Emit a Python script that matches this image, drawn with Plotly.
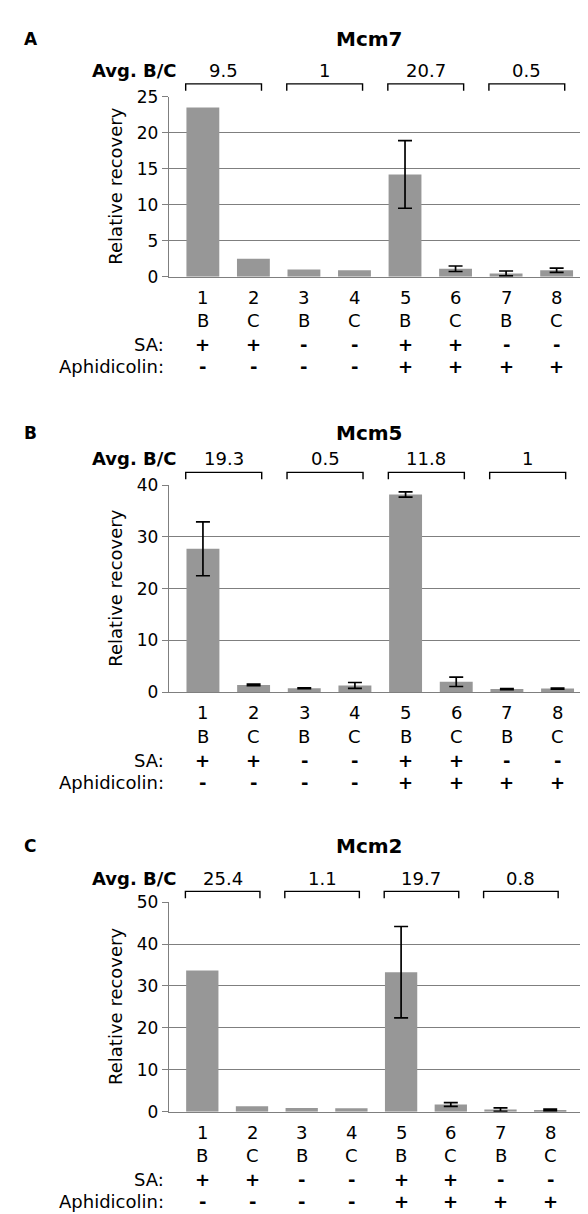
import plotly.graph_objects as go

# ---------------- data ----------------
categories = ["1", "2", "3", "4", "5", "6", "7", "8"]
fractions = ["B", "C", "B", "C", "B", "C", "B", "C"]
sa_row = ["+", "+", "-", "-", "+", "+", "-", "-"]
aph_row = ["-", "-", "-", "-", "+", "+", "+", "+"]

mcm7_values = [23.5, 2.5, 1.0, 0.9, 14.2, 1.1, 0.45, 0.9]
mcm7_errors = [None, None, None, None, 4.7, 0.38, 0.34, 0.3]
mcm7_avg = ["9.5", "1", "20.7", "0.5"]

mcm5_values = [27.7, 1.4, 0.75, 1.3, 38.2, 2.0, 0.6, 0.7]
mcm5_errors = [5.2, 0.15, 0.08, 0.57, 0.5, 0.9, 0.1, 0.1]
mcm5_avg = ["19.3", "0.5", "11.8", "1"]

mcm2_values = [33.7, 1.3, 0.9, 0.8, 33.3, 1.7, 0.5, 0.4]
mcm2_errors = [None, None, None, None, 10.9, 0.45, 0.4, 0.2]
mcm2_avg = ["25.4", "1.1", "19.7", "0.8"]

panel_letters = ["A", "B", "C"]
panel_titles = ["Mcm7", "Mcm5", "Mcm2"]
y_max = [25, 40, 50]
y_step = [5, 10, 10]

# ---------------- layout helpers ----------------
W, H = 588, 1214
FONT = "DejaVu Sans, Arial, sans-serif"


def xp(px):
    return px / W


def yp(py):
    return 1 - py / H


# pixel geometry of the three panels
panels = [
    dict(top=80, bottom=263, right=583, title_y=21, avg_y=53, br_y=67),
    dict(top=475, bottom=685.5, right=584, title_y=422, avg_y=448, br_y=462),
    dict(top=899, bottom=1112, right=576, title_y=842, avg_y=875, br_y=888),
]
plot_left = 161

series = [
    (mcm7_values, mcm7_errors, mcm7_avg),
    (mcm5_values, mcm5_errors, mcm5_avg),
    (mcm2_values, mcm2_errors, mcm2_avg),
]

fig = go.Figure()
annotations = []
shapes = []
xs = list(range(len(categories)))
GRID = "#7f7f7f"

for i, (vals, errs, avgs) in enumerate(series):
    sfx = "" if i == 0 else str(i + 1)
    p = panels[i]
    fig.add_trace(go.Bar(
        x=xs, y=vals, width=0.65,
        marker=dict(color="#979797", line=dict(width=0)),
        xaxis="x" + sfx, yaxis="y" + sfx, showlegend=False,
        hoverinfo="y",
    ))
    ex = [x for x, e in zip(xs, errs) if e is not None]
    ey = [v for v, e in zip(vals, errs) if e is not None]
    ee = [e for e in errs if e is not None]
    fig.add_trace(go.Scatter(
        x=ex, y=ey, mode="markers", marker=dict(size=1, color="rgba(0,0,0,0)"),
        error_y=dict(type="data", array=ee, visible=True, color="black",
                     thickness=1.7, width=7),
        xaxis="x" + sfx, yaxis="y" + sfx, showlegend=False, hoverinfo="skip",
    ))
    fig.layout["xaxis" + sfx] = dict(
        domain=[xp(plot_left), xp(p["right"])],
        range=[-0.67, 7.68], anchor="y" + sfx,
        showticklabels=False, showgrid=False, zeroline=False,
        showline=True, linecolor=GRID, linewidth=1.3, ticks="",
        fixedrange=True,
    )
    fig.layout["yaxis" + sfx] = dict(
        domain=[yp(p["bottom"]), yp(p["top"])],
        range=[0, y_max[i]], dtick=y_step[i], anchor="x" + sfx,
        showgrid=True, gridcolor=GRID, gridwidth=1,
        zeroline=False, showline=True, linecolor=GRID, linewidth=1.3,
        ticks="outside", ticklen=6, tickcolor=GRID, tickwidth=1.3,
        tickfont=dict(family=FONT, size=17, color="black"),
        fixedrange=True,
    )

    # panel letter + title
    annotations.append(dict(text="<b>%s</b>" % panel_letters[i], x=xp(14), y=yp(p["title_y"]),
                            xref="paper", yref="paper", xanchor="left", yanchor="middle",
                            showarrow=False, font=dict(family=FONT, size=17, color="black")))
    annotations.append(dict(text="<b>%s</b>" % panel_titles[i], x=xp(361), y=yp(p["title_y"]),
                            xref="paper", yref="paper", xanchor="center", yanchor="middle",
                            showarrow=False, font=dict(family=FONT, size=20, color="black")))
    # Avg. B/C row
    annotations.append(dict(text="<b>Avg. B/C</b>", x=xp(171), y=yp(p["avg_y"]),
                            xref="paper", yref="paper", xanchor="right", yanchor="middle",
                            showarrow=False, font=dict(family=FONT, size=18, color="black")))
    for k, a in enumerate(avgs):
        x0 = 2 * k - 0.34
        x1 = 2 * k + 1 + 0.16
        annotations.append(dict(text=a, x=(x0 + x1) / 2, y=yp(p["avg_y"]),
                                xref="x" + sfx, yref="paper", xanchor="center", yanchor="middle",
                                showarrow=False, font=dict(family=FONT, size=18, color="black")))
        shapes.append(dict(type="path", xref="x" + sfx, yref="paper",
                           path="M %f,%f L %f,%f L %f,%f L %f,%f" % (
                               x0, yp(p["br_y"] + 7), x0, yp(p["br_y"]),
                               x1, yp(p["br_y"]), x1, yp(p["br_y"] + 7)),
                           line=dict(color="black", width=1.4)))

    # y-axis title
    annotations.append(dict(text="Relative recovery", x=xp(108), y=yp((p["top"] + p["bottom"]) / 2),
                            xref="paper", yref="paper", xanchor="center", yanchor="middle",
                            textangle=-90, showarrow=False,
                            font=dict(family=FONT, size=18, color="black")))

    # category rows
    rows = [(categories, 21, False), (fractions, 45, False), (sa_row, 69, True), (aph_row, 91.5, True)]
    for labels, off, bold in rows:
        for x, lab in zip(xs, labels):
            txt = "<b>%s</b>" % lab if bold else lab
            annotations.append(dict(text=txt, x=x, y=yp(p["bottom"] + off),
                                    xref="x" + sfx, yref="paper", xanchor="center", yanchor="middle",
                                    showarrow=False,
                                    font=dict(family=FONT, size=18, color="black")))
    annotations.append(dict(text="SA:", x=xp(158), y=yp(p["bottom"] + 69),
                            xref="paper", yref="paper", xanchor="right", yanchor="middle",
                            showarrow=False, font=dict(family=FONT, size=18, color="black")))
    annotations.append(dict(text="Aphidicolin:", x=xp(158), y=yp(p["bottom"] + 91.5),
                            xref="paper", yref="paper", xanchor="right", yanchor="middle",
                            showarrow=False, font=dict(family=FONT, size=18, color="black")))

fig.update_layout(
    width=W, height=H,
    margin=dict(l=0, r=0, t=0, b=0),
    paper_bgcolor="white", plot_bgcolor="white",
    font=dict(family=FONT, color="black"),
    annotations=annotations, shapes=shapes,
)

fig.write_html("out.html")
